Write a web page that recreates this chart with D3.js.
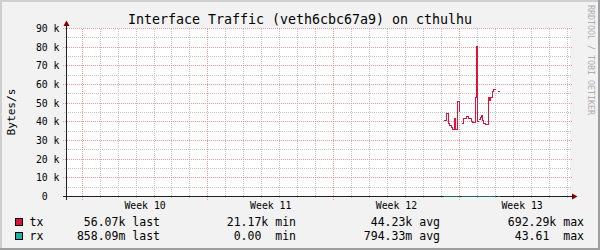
<!DOCTYPE html>
<html><head><meta charset="utf-8">
<script src="https://cdn.jsdelivr.net/npm/d3@7"></script>
<style>
html,body{margin:0;padding:0;background:#fff}
svg{display:block}
text{font-family:"DejaVu Sans Mono",monospace;white-space:pre}
</style></head><body>
<svg id="chart" width="600" height="250"></svg>
<script>
// ---------- data ----------
const title = "Interface Traffic (veth6cbc67a9) on cthulhu";
const yAxisLabel = "Bytes/s";
const watermark = "RRDTOOL / TOBI OETIKER";
const viewStart = "2024-03-03T03:00:00Z";
const viewEnd = "2024-03-31T04:00:00Z";
const dataStart = "2024-03-24T00:00:00Z";
const seriesNames = ["tx", "rx"];
const seriesColors = ["#dc143c", "#20b2aa"];
// hours after dataStart at which each consolidated sample begins (last entry = end)
const sampleHours = [2.7, 6.3, 8.6, 10.7, 12.6, 14.3, 17.0, 18.3, 21.4, 23.0, 24.3,
  26.3, 29.4, 32.6, 36.1, 39.7, 41.4, 44.4, 46.0, 47.3, 48.7,
  49.5, 51.1, 53.1, 54.4, 56.2, 58.0, 62.4, 64.2, 65.5, 68.2, 69.5, 72.2,
  74.1, 77.1];
const txValues = [40800, 44700, 39000, 38000, 36900, 35800, 41700, 36000, 51000, 45500, null,
  39000, 41700, 42900, 41700, 40400, 39600, 53200, 80400, 40000, null,
  41000, 42200, 43500, 40800, 39000, 38500, 53000, 51500, 53000, 56000, 57400, null,
  56070, null];
const rxValues = [0.6, 0.9, 0.5, 0.7, 1.1, 0.8, 0.6, 0.9, 1.2, 0.7, null,
  0.8, 0.6, 0.9, 0.7, 0.5, 0.8, 1.0, 1.3, 0.7, null,
  0.6, 0.8, 0.9, 0.7, 0.6, 0.8, 1.1, 0.9, 0.8, 0.7, 0.9, null,
  0.86, null];
const yTickValues = [0, 10000, 20000, 30000, 40000, 50000, 60000, 70000, 80000, 90000];
const yTickLabels = ["0  ", "10 k", "20 k", "30 k", "40 k", "50 k", "60 k", "70 k", "80 k", "90 k"];
const yMinorValues = [5000, 15000, 25000, 35000, 45000, 55000, 65000, 75000, 85000];
const legendLast = ["56.07k last", "858.09m last"];
const legendMin = ["21.17k min", "0.00  min"];
const legendAvg = ["44.23k avg", "794.33m avg"];
const legendMax = ["692.29k max", "43.61  max"];

// ---------- drawing ----------
const W = 600, H = 250;
const svg = d3.select("#chart");
const px = v => Math.round(v - 0.5) + 0.5;

const x = d3.scaleUtc().domain([new Date(viewStart), new Date(viewEnd)]).range([66.5, 570]);
const y = d3.scaleLinear().domain([0, 90000]).range([196.5, 28.5]);

// background + 3D frame
svg.append("rect").attr("width", W).attr("height", H).attr("fill", "#f2f2f2");
svg.append("rect").attr("x", 0).attr("y", 0).attr("width", W).attr("height", 2).attr("fill", "#cfcfcf");
svg.append("rect").attr("x", 0).attr("y", 0).attr("width", 2).attr("height", H).attr("fill", "#cfcfcf");
svg.append("rect").attr("x", 0).attr("y", H - 2).attr("width", W).attr("height", 2).attr("fill", "#9e9e9e");
svg.append("rect").attr("x", W - 2).attr("y", 0).attr("width", 2).attr("height", H).attr("fill", "#9e9e9e");

// canvas
svg.append("rect").attr("x", 67).attr("y", 28).attr("width", 503).attr("height", 169).attr("fill", "#ffffff");

const grid = svg.append("g").attr("shape-rendering", "crispEdges").attr("stroke-dasharray", "1,1");
const minorCol = "#c4c4c4", majorCol = "#eb9a9a";

// minor vertical (days)
const days = d3.utcDay.range(x.domain()[0], x.domain()[1]).filter(d => d3.utcMonday.floor(d) - d !== 0);
grid.selectAll("line.vmin").data(days).join("line")
  .attr("x1", d => px(x(d))).attr("x2", d => px(x(d)))
  .attr("y1", 28.5).attr("y2", 198).attr("stroke", minorCol);
// minor horizontal
grid.selectAll("line.hmin").data(yMinorValues).join("line")
  .attr("x1", 64).attr("x2", 571).attr("y1", d => px(y(d))).attr("y2", d => px(y(d)))
  .attr("stroke", minorCol);
// major vertical (weeks)
const weeks = d3.utcMonday.range(x.domain()[0], x.domain()[1]);
grid.selectAll("line.vmaj").data(weeks).join("line")
  .attr("x1", d => px(x(d))).attr("x2", d => px(x(d)))
  .attr("y1", 28.5).attr("y2", 200).attr("stroke", majorCol);
// major horizontal
grid.selectAll("line.hmaj").data(yTickValues.slice(1)).join("line")
  .attr("x1", 63).attr("x2", 573).attr("y1", d => px(y(d))).attr("y2", d => px(y(d)))
  .attr("stroke", majorCol);

// samples
const t0 = +new Date(dataStart);
const samples = sampleHours.map((h, i) => ({ t: new Date(t0 + h * 3600e3), tx: txValues[i], rx: rxValues[i] }));
function stepPoints(key) {
  const pts = [];
  for (let i = 0; i < samples.length - 1; i++) {
    const v = samples[i][key];
    if (v == null) { pts.push(null); continue; }
    pts.push({ t: samples[i].t, v });
    pts.push({ t: samples[i + 1].t, v });
  }
  return pts;
}
const line = d3.line().defined(p => p !== null)
  .x(p => Math.round(x(p.t)) + 0.5).y(p => px(y(p.v)));

// axes
const axis = svg.append("g").attr("shape-rendering", "crispEdges");
axis.append("line").attr("x1", 63).attr("x2", 572).attr("y1", 196.5).attr("y2", 196.5).attr("stroke", "#212121");
axis.append("line").attr("x1", 66.5).attr("x2", 66.5).attr("y1", 200).attr("y2", 25).attr("stroke", "#212121");

// rx line (sits on zero)
svg.append("path").datum(stepPoints("rx")).attr("d", line).attr("fill", "none")
  .attr("stroke", seriesColors[1]).attr("stroke-opacity", 0.5).attr("stroke-width", 1)
  .attr("shape-rendering", "crispEdges");
// tx line
svg.append("path").datum(stepPoints("tx")).attr("d", line).attr("fill", "none")
  .attr("stroke", seriesColors[0]).attr("stroke-width", 1).attr("shape-rendering", "crispEdges");

// arrows
svg.append("path").attr("d", "M572,193.5L577.5,196.5L572,199.5Z").attr("fill", "#800000");
svg.append("path").attr("d", "M63.5,26L66.5,20.5L69.5,26Z").attr("fill", "#800000");

// y tick labels
svg.selectAll("text.ytick").data(yTickValues).join("text")
  .attr("x", 59.5).attr("y", d => px(y(d)) + 3.5)
  .attr("text-anchor", "end").attr("font-size", 9.8).attr("fill", "#000")
  .text((d, i) => yTickLabels[i]);

// x labels (centered mid-week)
const fmtWeek = d3.utcFormat("Week %V");
svg.selectAll("text.xtick").data(weeks).join("text")
  .attr("x", d => x(d3.utcHour.offset(d, 84))).attr("y", 209)
  .attr("text-anchor", "middle").attr("font-size", 9.8).attr("fill", "#000")
  .text(d => fmtWeek(d));

// title
svg.append("text").attr("x", 300).attr("y", 24).attr("text-anchor", "middle")
  .attr("font-size", 13.3).attr("fill", "#000").text(title);

// y axis label
svg.append("text").attr("transform", "translate(15,112) rotate(-90)")
  .attr("text-anchor", "middle").attr("font-size", 11.2).attr("fill", "#000").text(yAxisLabel);

// watermark
svg.append("text").attr("transform", "translate(588,5) rotate(90)")
  .attr("font-size", 8.3).attr("fill", "#adadad").text(watermark);

// legend
const legendBase = [226, 240];
seriesNames.forEach((name, i) => {
  const by = legendBase[i];
  svg.append("rect").attr("x", 15.5).attr("y", by - 7.5).attr("width", 7).attr("height", 7)
    .attr("fill", seriesColors[i]).attr("stroke", "#000").attr("stroke-width", 1);
  const g = svg.append("g").attr("font-size", 11.5).attr("fill", "#000");
  g.append("text").attr("x", 29.5).attr("y", by).text(name);
  g.append("text").attr("x", 160).attr("y", by).attr("text-anchor", "end").text(legendLast[i]);
  g.append("text").attr("x", 296).attr("y", by).attr("text-anchor", "end").text(legendMin[i]);
  g.append("text").attr("x", 440).attr("y", by).attr("text-anchor", "end").text(legendAvg[i]);
  g.append("text").attr("x", 584).attr("y", by).attr("text-anchor", "end").text(legendMax[i]);
});
</script>
</body></html>
